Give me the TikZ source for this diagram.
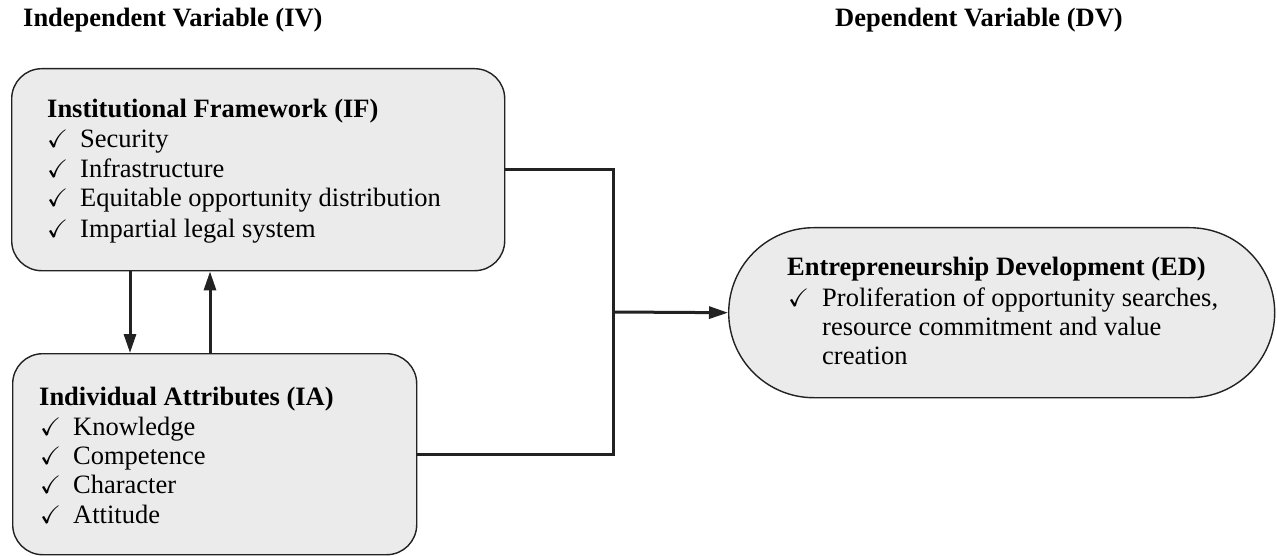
\documentclass[tikz,border=0pt]{standalone}
\usepackage{fontspec}
\setmainfont{Liberation Serif}
\usepackage{amssymb}
\usetikzlibrary{arrows.meta}
\definecolor{boxgray}{HTML}{EBEBEB}
\definecolor{edge}{HTML}{222222}
\newcommand{\ck}[1][33pt]{\makebox[#1][l]{\scalebox{0.95}{$\checkmark$}}}
\begin{document}
\begin{tikzpicture}[x=1pt,y=-1pt,
  box/.style={draw=edge, line width=1.4pt, fill=boxgray, rounded corners=30pt, inner sep=0pt, anchor=north west},
  txt/.style={anchor=base west, inner sep=0pt, font=\fontsize{26.5}{29.7}\selectfont},
  ttl/.style={anchor=base west, inner sep=0pt, font=\fontsize{26.5}{29.7}\selectfont\bfseries},
  conn/.style={line width=3pt, draw=edge},
  arr/.style={conn, -{Triangle[length=19pt,width=12pt]}},
]
\useasboundingbox (0,0) rectangle (1277,556);
\fill[white] (0,0) rectangle (1277,556);

% headers
\node[ttl] (hIV) at (23,27) {Independent Variable (IV)};
\node[ttl] (hDV) at (835,27) {Dependent Variable (DV)};

% boxes
\node[box, minimum width=493pt, minimum height=202pt] (IF) at (11,68) {};
\node[box, minimum width=404pt, minimum height=201pt] (IA) at (12,353) {};
\node[box, rounded corners=85pt, minimum width=546pt, minimum height=170pt] (ED) at (728,227) {};

% IF text
\node[ttl] (IFt) at (47,118) {Institutional Framework (IF)};
\node[txt] (IF1) at (47,148) {\ck Security};
\node[txt] (IF2) at (47,177.5) {\ck Infrastructure};
\node[txt] (IF3) at (47,207) {\ck Equitable opportunity distribution};
\node[txt] (IF4) at (47,237) {\ck Impartial legal system};

% IA text
\node[ttl] (IAt) at (39,405) {Individual Attributes (IA)};
\node[txt] (IA1) at (40,435) {\ck Knowledge};
\node[txt] (IA2) at (40,464) {\ck Competence};
\node[txt] (IA3) at (40,493.5) {\ck Character};
\node[txt] (IA4) at (40,523) {\ck Attitude};

% ED text
\node[ttl] (EDt) at (787,276) {Entrepreneurship Development (ED)};
\node[txt] (ED1) at (788,306) {\ck[34pt]Proliferation of opportunity searches,};
\node[txt] (ED2) at (822,335) {resource commitment and value};
\node[txt] (ED3) at (822,364) {creation};

% connectors
\coordinate (J) at (613,312);
\draw[conn] (IF.east) -| (J);
\draw[conn] (IA.east) -| (J);
\draw[arr] (J) -- (ED.west);
\draw[arr] ([xshift=119pt]IF.south west) -- ([xshift=118pt]IA.north west);
\draw[arr] ([xshift=198pt]IA.north west) -- ([xshift=199pt]IF.south west);
\end{tikzpicture}
\end{document}
